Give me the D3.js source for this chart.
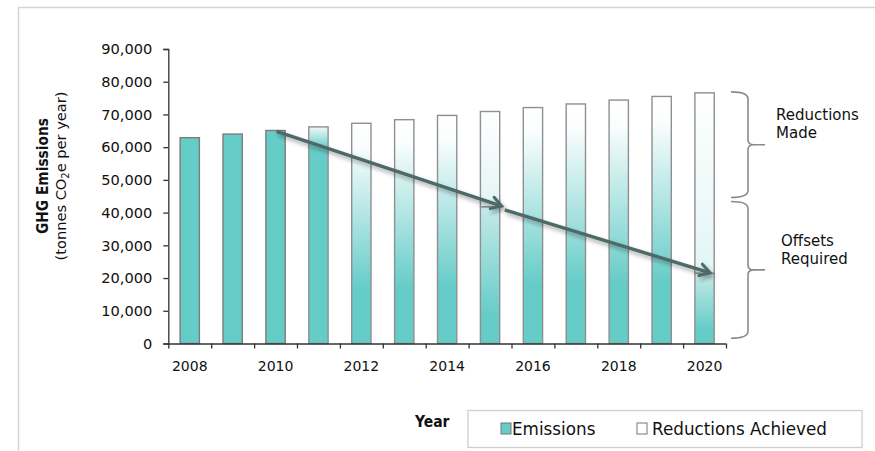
<!DOCTYPE html>
<html>
<head>
<meta charset="utf-8">
<script src="https://cdn.jsdelivr.net/npm/d3@7"></script>
<style>
  body { margin: 0; background: #fff; }
  svg { display: block; font-family: "DejaVu Sans", Verdana, sans-serif; }
  .bold { font-family: "DejaVu Sans Condensed", "DejaVu Sans", sans-serif; font-weight: bold; }
</style>
</head>
<body>
<div id="chart"></div>
<script>
// datos
const years = [2008, 2009, 2010, 2011, 2012, 2013, 2014, 2015, 2016, 2017, 2018, 2019, 2020];
const emissions = [62900, 64000, 65100, 66200, 67300, 68400, 69700, 41800, 72100, 73200, 74400, 75500, 21500];
const reductions = [0, 0, 0, 0, 0, 0, 0, 29100, 0, 0, 0, 0, 55100];
const yTicks = [0, 10000, 20000, 30000, 40000, 50000, 60000, 70000, 80000, 90000];
const xLabels = [2008, 2010, 2012, 2014, 2016, 2018, 2020];
const legendLabels = ["Emissions", "Reductions Achieved"];

const W = 875, H = 451;
const teal = "#66ccc8";

const svg = d3.select("#chart").append("svg")
    .attr("width", W)
    .attr("height", H);

const defs = svg.append("defs");

// degradados de las barras
function grad(id, stops) {
    let g = defs.append("linearGradient")
        .attr("id", id)
        .attr("x1", 0).attr("y1", 0).attr("x2", 0).attr("y2", 1);
    stops.forEach(s => g.append("stop").attr("offset", s[0]).attr("stop-color", s[1]));
}
grad("gFull", [[0, "#ffffff"], [0.1, "#fbfefe"], [0.75, teal], [1, teal]]);
grad("gQuick", [[0, "#eef9f9"], [0.1, teal], [1, teal]]);
grad("gLow", [[0, "#c4eae8"], [0.8, teal], [1, teal]]);
grad("gHigh", [[0, "#ffffff"], [1, "#e2f5f4"]]);

// sombra de las flechas
defs.append("filter")
    .attr("id", "shadow")
    .attr("x", "-20%").attr("y", "-20%").attr("width", "140%").attr("height", "160%")
    .append("feDropShadow")
    .attr("dx", 2).attr("dy", 3).attr("stdDeviation", 2)
    .attr("flood-color", "#000").attr("flood-opacity", 0.35);

defs.append("marker")
    .attr("id", "head")
    .attr("markerUnits", "userSpaceOnUse")
    .attr("viewBox", "-12 -8 16 16")
    .attr("markerWidth", 16).attr("markerHeight", 16)
    .attr("refX", 0).attr("refY", 0)
    .attr("orient", "auto")
    .append("path")
    .attr("d", "M-10,-6 L0,0 L-10,6")
    .attr("fill", "none")
    .attr("stroke", "#4d6a69")
    .attr("stroke-width", 3)
    .attr("stroke-linecap", "round");

// marco
svg.append("path")
    .attr("d", "M18.5,451 L18.5,7.5 L875,7.5")
    .attr("fill", "none")
    .attr("stroke", "#d4d4d4")
    .attr("stroke-width", 1.5);

// escalas
const x0 = 168.3, x1 = 726;
const x = d3.scaleBand()
    .domain(years)
    .range([x0, x1])
    .paddingInner(0.55)
    .paddingOuter(0.275);
const xEdge = d3.scaleLinear().domain([0, years.length]).range([x0, x1]);
const y = d3.scaleLinear().domain([0, 90000]).range([343.5, 49]);

// barras
const rows = years.map((yr, i) => ({ year: yr, e: emissions[i], r: reductions[i] }));

function lowFill(d) {
    if (d.year <= 2010) return teal;
    if (d.year === 2011) return "url(#gQuick)";
    if (d.r > 0) return "url(#gLow)";
    return "url(#gFull)";
}

const bars = svg.append("g");
bars.selectAll("rect.em")
    .data(rows)
    .enter().append("rect")
    .classed("em", true)
    .attr("x", d => x(d.year))
    .attr("width", x.bandwidth())
    .attr("y", d => y(d.e))
    .attr("height", d => y(0) - y(d.e))
    .attr("fill", lowFill)
    .attr("stroke", d => d.year <= 2010 ? "#7c7c7c" : "#8f8f8f")
    .attr("stroke-width", 1.4);

bars.selectAll("rect.red")
    .data(rows.filter(d => d.r > 0))
    .enter().append("rect")
    .classed("red", true)
    .attr("x", d => x(d.year))
    .attr("width", x.bandwidth())
    .attr("y", d => y(d.e + d.r))
    .attr("height", d => y(d.e) - y(d.e + d.r))
    .attr("fill", "url(#gHigh)")
    .attr("stroke", "#8f8f8f")
    .attr("stroke-width", 1.4);

// ejes
const yAxis = svg.append("g")
    .attr("transform", `translate(${x0},0)`)
    .call(d3.axisLeft(y).tickValues(yTicks).tickSize(5).tickPadding(11).tickFormat(d3.format(",")));
yAxis.attr("font-family", null).attr("font-size", 14.6);
yAxis.selectAll("text").attr("fill", "#111");

const xTicks = svg.append("g")
    .attr("transform", `translate(0,${y(0)})`)
    .call(d3.axisBottom(xEdge).ticks(years.length).tickSize(5).tickFormat(""));
xTicks.select(".domain").remove();

const xAxis = svg.append("g")
    .attr("transform", `translate(0,${y(0)})`)
    .call(d3.axisBottom(x).tickValues(xLabels).tickSize(0).tickPadding(18));
xAxis.select(".domain").attr("d", `M${x0},0.5H${x1}`);
xAxis.attr("font-family", null).attr("font-size", 14);
xAxis.selectAll("text").attr("fill", "#111");

svg.selectAll(".domain, .tick line").attr("stroke", "#333").attr("stroke-width", 1.3);

// titulo del eje y
const yTitle = svg.append("text")
    .attr("transform", "translate(0,176) rotate(-90)")
    .attr("text-anchor", "middle")
    .attr("fill", "#111");
yTitle.append("tspan")
    .attr("x", 0).attr("y", 48)
    .classed("bold", true).attr("font-size", 15.3)
    .text("GHG Emissions");
const t2 = yTitle.append("tspan")
    .attr("x", 0).attr("y", 66)
    .attr("font-size", 14.6);
t2.append("tspan").text("(tonnes CO");
t2.append("tspan").attr("font-size", 10).attr("dy", 3).text("2");
t2.append("tspan").attr("dy", -3).text("e per year)");

// flechas de tendencia
const bw = x.bandwidth();
const arrows = [
    [[x(2010) + bw * 0.55, y(64800)], [x(2015) + bw + 2, y(42000)]],
    [[x(2015) + bw + 5, y(40800)], [x(2020) + bw - 4, y(21600)]]
];
svg.append("g")
    .attr("filter", "url(#shadow)")
    .selectAll("line")
    .data(arrows)
    .enter().append("line")
    .attr("x1", d => d[0][0]).attr("y1", d => d[0][1])
    .attr("x2", d => d[1][0]).attr("y2", d => d[1][1])
    .attr("stroke", "#4d6a69")
    .attr("stroke-width", 3.4)
    .attr("marker-end", "url(#head)");

// llaves
function brace(top, bot) {
    const xa = 731, xm = 748, xp = 765;
    const mid = (top + bot) / 2;
    return `M${xa},${top} Q${xm},${top} ${xm},${top + 7} L${xm},${mid - 5} Q${xm},${mid} ${xm + 6},${mid} L${xp},${mid}` +
        ` M${xm + 6},${mid} Q${xm},${mid} ${xm},${mid + 5} L${xm},${bot - 7} Q${xm},${bot} ${xa},${bot}`;
}
svg.append("g").selectAll("path")
    .data([[y(76900), y(44600)], [y(43400), y(1600)]])
    .enter().append("path")
    .attr("d", d => brace(d[0], d[1]))
    .attr("fill", "none")
    .attr("stroke", "#8a8a8a")
    .attr("stroke-width", 1.6);

const notes = [
    { x: 776, y: 120, lines: ["Reductions", "Made"] },
    { x: 781, y: 246, lines: ["Offsets", "Required"] }
];
notes.forEach(n => {
    let t = svg.append("text").attr("font-size", 15).attr("fill", "#111");
    n.lines.forEach((l, i) => t.append("tspan").attr("x", n.x).attr("y", n.y + i * 17.5).text(l));
});

// leyenda
svg.append("text")
    .attr("x", 415).attr("y", 427)
    .classed("bold", true)
    .attr("font-size", 15.5).attr("fill", "#111")
    .text("Year");

svg.append("rect")
    .attr("x", 468).attr("y", 410.5)
    .attr("width", 394).attr("height", 37)
    .attr("fill", "#fff")
    .attr("stroke", "#cfcfcf")
    .attr("stroke-width", 1.3);

const leg = svg.append("g").selectAll("g")
    .data(legendLabels)
    .enter().append("g")
    .attr("transform", (d, i) => `translate(${i === 0 ? 501 : 637},423)`);
leg.append("rect")
    .attr("width", 10).attr("height", 11)
    .attr("fill", (d, i) => i === 0 ? teal : "#fff")
    .attr("stroke", "#777")
    .attr("stroke-width", 1);
leg.append("text")
    .attr("x", (d, i) => i === 0 ? 11 : 15)
    .attr("y", 11.5)
    .attr("font-size", 16.8)
    .attr("fill", "#111")
    .text(d => d);
</script>
</body>
</html>
